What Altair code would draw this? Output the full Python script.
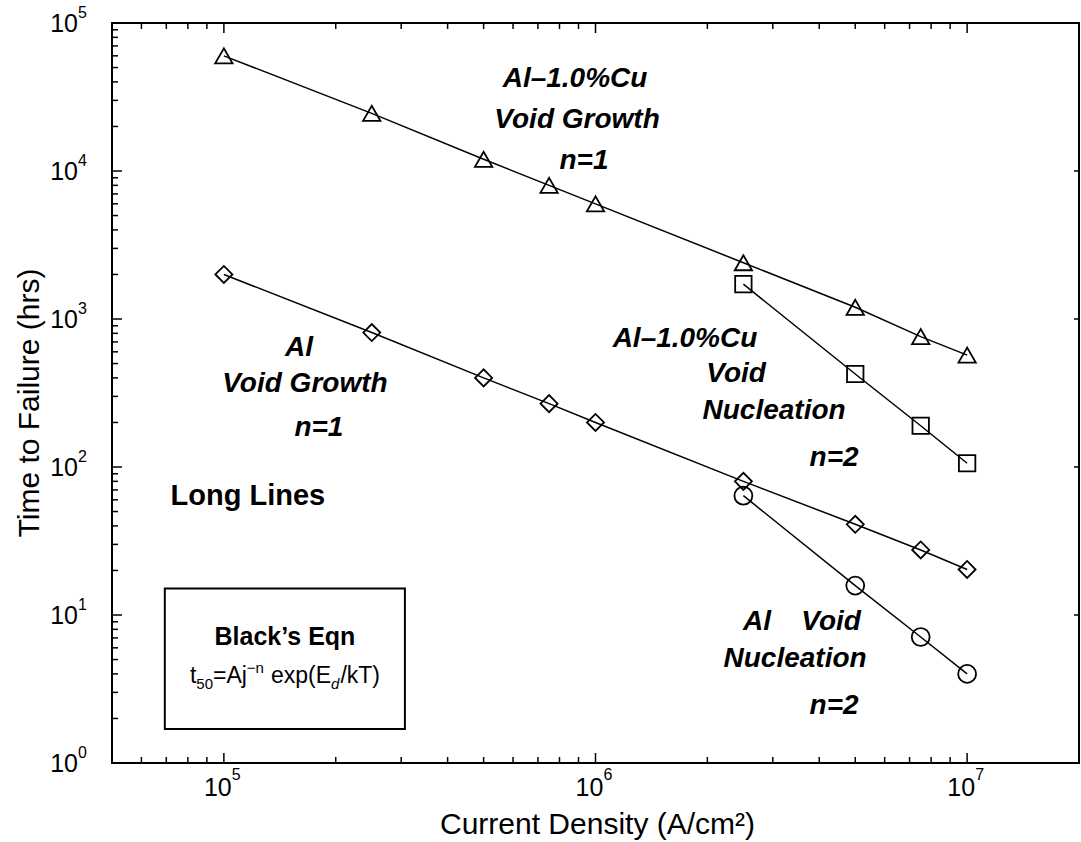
import altair as alt
import pandas as pd

# ---------------- data ----------------
j_all = [1e5, 2.5e5, 5e5, 7.5e5, 1e6, 2.5e6, 5e6, 7.5e6, 1e7]
t_alcu_growth = [6.0e4, 2.45e4, 1.2e4, 8.0e3, 6.0e3, 2.4e3, 1.2e3, 760, 570]
t_al_growth = [2000, 810, 400, 268, 200, 80, 41, 27.5, 20.3]
j_nuc = [2.5e6, 5e6, 7.5e6, 1e7]
t_alcu_nuc = [1720, 425, 190, 106]
t_al_nuc = [64, 15.8, 7.1, 4.0]

x_major = [1e5, 1e6, 1e7]
x_major_exp = ["5", "6", "7"]
x_minor = [6e4, 7e4, 8e4, 9e4,
           2e5, 3e5, 4e5, 5e5, 6e5, 7e5, 8e5, 9e5,
           2e6, 3e6, 4e6, 5e6, 6e6, 7e6, 8e6, 9e6]
y_major = [1, 10, 100, 1e3, 1e4, 1e5]
y_major_exp = ["0", "1", "2", "3", "4", "5"]
y_minor = [m * 10 ** k for k in range(0, 5) for m in range(2, 10)]

x_title = "Current Density (A/cm\u00b2)"
y_title = "Time to Failure (hrs)"

# annotation texts (data coordinates)
ann_text = ["Al\u20131.0%Cu", "Void Growth", "n=1",
            "Al", "Void Growth", "n=1",
            "Al\u20131.0%Cu", "Void", "Nucleation", "n=2",
            "Al", "Void", "Nucleation", "n=2"]
ann_x = [8.81e5, 8.92e5, 9.31e5,
         1.592e5, 1.652e5, 1.802e5,
         1.741e6, 2.389e6, 3.023e6, 4.385e6,
         2.721e6, 4.304e6, 3.444e6, 4.385e6]
ann_y = [41940, 22200, 11750,
         635.7, 363.6, 183.8,
         730.8, 424.6, 239.2, 115.3,
         8.915, 8.915, 5.022, 2.422]

long_lines = {"text": ["Long Lines"], "x": [1.16e5], "y": [64.0]}
box = {"x1": [6.936e4], "x2": [3.07e5], "y1": [1.695], "y2": [15.11]}
box_title = {"text": ["Black\u2019s Eqn"], "x": [1.46e5], "y": [7.06]}
eq_anchor = {"x": [1.46e5], "y": [3.92]}

# ---------------- layout ----------------
W, H = 967, 740
FONT = "Liberation Sans"

xs = alt.Scale(type="log", domain=[5e4, 2e7])
ys = alt.Scale(type="log", domain=[1, 1e5])

rows = []
for s, js, ts in [("alcu_growth", j_all, t_alcu_growth),
                  ("al_growth", j_all, t_al_growth),
                  ("alcu_nuc", j_nuc, t_alcu_nuc),
                  ("al_nuc", j_nuc, t_al_nuc)]:
    for a, b in zip(js, ts):
        rows.append({"j": a, "t": b, "s": s})
df = pd.DataFrame(rows)

lines = alt.Chart(df).mark_line(color="black", strokeWidth=1.5).encode(
    x=alt.X("j:Q", scale=xs, axis=None),
    y=alt.Y("t:Q", scale=ys, axis=None),
    detail="s:N",
)

shape_spec = {"alcu_growth": ("triangle-up", 300), "al_growth": ("diamond", 290),
              "alcu_nuc": ("square", 270), "al_nuc": ("circle", 320)}
point_layers = []
for s, (shp, sz) in shape_spec.items():
    point_layers.append(
        alt.Chart(df[df.s == s]).mark_point(shape=shp, size=sz, filled=False,
                                            color="black", strokeWidth=1.8, opacity=1).encode(
            x=alt.X("j:Q", scale=xs, axis=None),
            y=alt.Y("t:Q", scale=ys, axis=None),
        )
    )

# ticks (inward)
def yticks(vals, x0, x1):
    return alt.Chart(pd.DataFrame({"v": vals})).mark_rule(color="black", strokeWidth=1.5).encode(
        y=alt.Y("v:Q", scale=ys, axis=None), x=alt.value(x0), x2=alt.value(x1))

def xticks(vals, y0, y1):
    return alt.Chart(pd.DataFrame({"v": vals})).mark_rule(color="black", strokeWidth=1.5).encode(
        x=alt.X("v:Q", scale=xs, axis=None), y=alt.value(y0), y2=alt.value(y1))

tick_layers = [
    yticks(y_major, 0, 10), yticks(y_minor, 0, 6), yticks(y_major, W, W - 5),
    xticks(x_major, H, H - 10), xticks(x_minor, H, H - 6),
    xticks(x_major, 0, 10), xticks(x_minor, 0, 6),
]

# tick labels
xl = pd.DataFrame({"v": x_major, "e": x_major_exp})
yl = pd.DataFrame({"v": y_major, "e": y_major_exp})
x_lab10 = alt.Chart(xl).mark_text(text="10", font=FONT, fontSize=25, align="center",
                                  baseline="middle", dx=-6).encode(
    x=alt.X("v:Q", scale=xs, axis=None), y=alt.value(H + 25))
x_labexp = alt.Chart(xl).mark_text(font=FONT, fontSize=16, align="left",
                                   baseline="middle", dx=8).encode(
    x=alt.X("v:Q", scale=xs, axis=None), y=alt.value(H + 12), text="e:N")
y_lab10 = alt.Chart(yl).mark_text(text="10", font=FONT, fontSize=25, align="right",
                                  baseline="middle", dy=1).encode(
    y=alt.Y("v:Q", scale=ys, axis=None), x=alt.value(-34))
y_labexp = alt.Chart(yl).mark_text(font=FONT, fontSize=16, align="left",
                                   baseline="middle", dy=-10).encode(
    y=alt.Y("v:Q", scale=ys, axis=None), x=alt.value(-34), text="e:N")

# axis titles
xt = alt.Chart(pd.DataFrame({"text": [x_title]})).mark_text(
    font=FONT, fontSize=30, align="center", baseline="middle").encode(
    x=alt.value(W / 2 + 2), y=alt.value(H + 62), text="text:N")
yt = alt.Chart(pd.DataFrame({"text": [y_title]})).mark_text(
    font=FONT, fontSize=30, align="center", baseline="middle", angle=270).encode(
    x=alt.value(-82), y=alt.value(H / 2 + 10), text="text:N")

# annotations
ann_df = pd.DataFrame({"text": ann_text, "x": ann_x, "y": ann_y})
ann = alt.Chart(ann_df).mark_text(font=FONT, fontSize=28, fontWeight="bold", fontStyle="italic",
                                  align="center", baseline="middle").encode(
    x=alt.X("x:Q", scale=xs, axis=None), y=alt.Y("y:Q", scale=ys, axis=None), text="text:N")

ll = alt.Chart(pd.DataFrame(long_lines)).mark_text(font=FONT, fontSize=29, fontWeight="bold",
                                                    align="center", baseline="middle").encode(
    x=alt.X("x:Q", scale=xs, axis=None), y=alt.Y("y:Q", scale=ys, axis=None), text="text:N")

rect = alt.Chart(pd.DataFrame(box)).mark_rect(fill="white", stroke="black", strokeWidth=2).encode(
    x=alt.X("x1:Q", scale=xs, axis=None), x2="x2:Q",
    y=alt.Y("y1:Q", scale=ys, axis=None), y2="y2:Q")

bt = alt.Chart(pd.DataFrame(box_title)).mark_text(font=FONT, fontSize=25, fontWeight="bold",
                                                   align="center", baseline="middle").encode(
    x=alt.X("x:Q", scale=xs, axis=None), y=alt.Y("y:Q", scale=ys, axis=None), text="text:N")

# equation pieces: t50=Aj^-n exp(E_d/kT)  (gap = leading space width)
AW = {"t": 278, "5": 556, "0": 556, "=": 584, "A": 667, "j": 222, "\u2212": 584, "n": 556,
      " ": 278, "e": 556, "x": 500, "p": 556, "(": 333, "E": 667, "d": 556, "/": 278,
      "k": 500, "T": 611, ")": 333}
pieces = [("t", 23, 0, "normal", 0), ("50", 15, 6, "normal", 0), ("=Aj", 23, 0, "normal", 0),
          ("\u2212n", 15, -10, "normal", 0), ("exp(E", 23, 0, "normal", 7), ("d", 15, 6, "italic", 0),
          ("/kT)", 23, 0, "normal", 1)]
widths = [sum(AW[c] for c in p[0]) / 1000 * p[1] + p[4] for p in pieces]
total = sum(widths)
eq_layers = []
off = -total / 2
for (txt, sz, dy, st, gap), w in zip(pieces, widths):
    eq_layers.append(
        alt.Chart(pd.DataFrame(eq_anchor)).mark_text(text=txt, font=FONT, fontSize=sz, fontStyle=st,
                                                     align="left", baseline="alphabetic",
                                                     dx=off + gap, dy=8 + dy).encode(
            x=alt.X("x:Q", scale=xs, axis=None), y=alt.Y("y:Q", scale=ys, axis=None))
    )
    off += w

chart = alt.layer(
    lines, *point_layers, *tick_layers, x_lab10, x_labexp, y_lab10, y_labexp, xt, yt,
    rect, bt, *eq_layers, ann, ll
).properties(
    width=W, height=H,
    background="white",
    autosize=alt.AutoSizeParams(type="none"),
    padding={"left": 112, "top": 23, "right": 2, "bottom": 79},
).configure_view(stroke="black", strokeWidth=2)

chart.save("out.html", embed_options={"renderer": "svg", "actions": False})
